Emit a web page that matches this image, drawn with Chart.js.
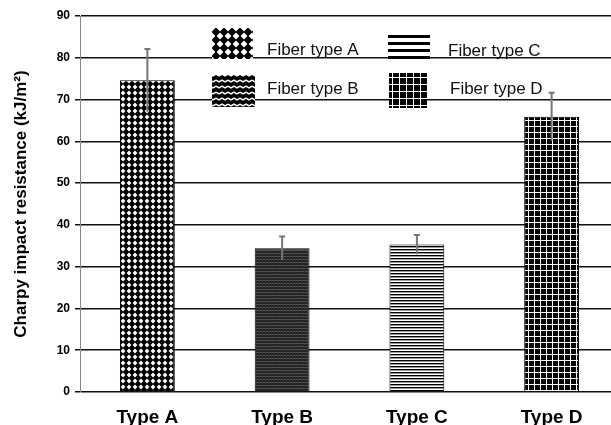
<!DOCTYPE html>
<html>
<head>
<meta charset="utf-8">
<script src="https://cdn.jsdelivr.net/npm/chart.js@4"></script>
<style>
  body { margin: 0; overflow: hidden; background: #fff; }
</style>
</head>
<body>
<canvas id="myChart" width="620" height="425"></canvas>
<script>
// data
var categories = ['Type A', 'Type B', 'Type C', 'Type D']
var impact = [74.6, 34.4, 35.3, 65.9]
var errors = [7.5, 2.8, 2.3, 5.7]
var legendLabels = ['Fiber type A', 'Fiber type B', 'Fiber type C', 'Fiber type D']
var yTicks = [0, 10, 20, 30, 40, 50, 60, 70, 80, 90]

// small tiles for the bar fills
function tile(w, h, paint) {
    const c = document.createElement('canvas')
    c.width = w
    c.height = h
    const g = c.getContext('2d')
    paint(g, w, h)
    return document.getElementById('myChart').getContext('2d').createPattern(c, 'repeat')
}

function dots(size) {
    return tile(size, size, function(g, w) {
        g.fillStyle = '#000'
        g.fillRect(0, 0, w, w)
        g.fillStyle = '#fff'
        g.beginPath()
        g.moveTo(w / 2, 0.6)
        g.lineTo(w - 0.6, w / 2)
        g.lineTo(w / 2, w - 0.6)
        g.lineTo(0.6, w / 2)
        g.closePath()
        g.fill()
    })
}

function waves(size, bg, line, width) {
    return tile(size * 2, size, function(g, w, h) {
        g.fillStyle = bg
        g.fillRect(0, 0, w, h)
        g.strokeStyle = line
        g.lineWidth = width
        g.beginPath()
        g.moveTo(0, h * 0.35)
        g.lineTo(w / 4, h * 0.65)
        g.lineTo(w / 2, h * 0.35)
        g.lineTo(w * 3 / 4, h * 0.65)
        g.lineTo(w, h * 0.35)
        g.stroke()
    })
}

function stripes(period, dark) {
    return tile(4, period, function(g, w, h) {
        g.fillStyle = '#fff'
        g.fillRect(0, 0, w, h)
        g.fillStyle = '#000'
        g.fillRect(0, 0, w, dark)
    })
}

function grid(size) {
    return tile(size, size, function(g, w) {
        g.fillStyle = '#000'
        g.fillRect(0, 0, w, w)
        g.fillStyle = '#fff'
        g.fillRect(0, 0, w, 1)
        g.fillRect(0, 0, 1, w)
    })
}

var barFills = [dots(6), waves(3, '#1e1e1e', '#8a8a8a', 0.6), stripes(3, 1.4), grid(6)]
var legendFills = [dots(8), waves(6, '#000', '#fff', 1.5), stripes(7, 3), grid(7)]

const errorBars = {
    id: 'errorBars',
    afterDatasetsDraw(chart) {
        const ctx = chart.ctx
        const y = chart.scales.y
        const meta = chart.getDatasetMeta(0)
        ctx.save()
        ctx.strokeStyle = '#777'
        ctx.lineWidth = 2
        meta.data.forEach(function(bar, i) {
            const top = y.getPixelForValue(impact[i] + errors[i])
            const bottom = y.getPixelForValue(impact[i] - errors[i])
            ctx.beginPath()
            ctx.moveTo(bar.x, bottom)
            ctx.lineTo(bar.x, top)
            ctx.moveTo(bar.x - 3, top)
            ctx.lineTo(bar.x + 3, top)
            ctx.stroke()
        })
        ctx.restore()
    }
}

const boxLegend = {
    id: 'boxLegend',
    afterDraw(chart) {
        const ctx = chart.ctx
        const spots = [
            { sx: 212, sy: 28, sw: 41, sh: 31, tx: 267, ty: 50 },
            { sx: 212, sy: 75, sw: 43, sh: 32, tx: 267, ty: 89 },
            { sx: 388, sy: 35, sw: 42, sh: 28, tx: 448, ty: 51 },
            { sx: 389, sy: 73, sw: 38, sh: 35, tx: 450, ty: 89 }
        ]
        ctx.save()
        ctx.font = '17px "Liberation Sans", Arial, sans-serif'
        ctx.textBaseline = 'middle'
        spots.forEach(function(s, i) {
            ctx.fillStyle = legendFills[i]
            ctx.fillRect(s.sx, s.sy, s.sw, s.sh)
            ctx.fillStyle = '#111'
            ctx.fillText(legendLabels[i], s.tx, s.ty)
        })
        ctx.restore()
    }
}

const ctx = document.getElementById('myChart')

var myChart = new Chart(ctx, {
    type: 'bar',
    data: {
        labels: categories,
        datasets: [{
            data: impact,
            backgroundColor: barFills,
            borderColor: '#000',
            borderWidth: 1,
            categoryPercentage: 1,
            barPercentage: 0.407
        }]
    },
    options: {
        responsive: false,
        animation: false,
        layout: { padding: { top: 16, right: 1, left: 0, bottom: 0 } },
        plugins: {
            legend: { display: false },
            tooltip: { enabled: false }
        },
        scales: {
            x: {
                grid: { display: false, drawTicks: false },
                border: { display: false },
                ticks: {
                    color: '#000',
                    padding: 14,
                    font: { family: '"Liberation Sans", Arial, sans-serif', size: 19, weight: 'bold' }
                },
                afterFit: function(scale) { scale.height = 33 }
            },
            y: {
                min: 0,
                max: 90,
                afterBuildTicks: function(scale) {
                    scale.ticks = yTicks.map(function(v) { return { value: v } })
                },
                grid: { color: '#111', lineWidth: 1.5, tickLength: 5, tickColor: '#111' },
                border: { color: '#888', width: 1 },
                ticks: {
                    color: '#000',
                    padding: 5,
                    font: { family: '"Liberation Sans", Arial, sans-serif', size: 12, weight: 'bold' }
                },
                title: {
                    display: true,
                    text: 'Charpy impact resistance (kJ/m²)',
                    color: '#000',
                    padding: { top: 11, bottom: 0 },
                    font: { family: '"Liberation Sans", Arial, sans-serif', size: 17, weight: 'bold' }
                },
                afterFit: function(scale) { scale.width = 80 }
            }
        }
    },
    plugins: [errorBars, boxLegend]
});
</script>
</body>
</html>
